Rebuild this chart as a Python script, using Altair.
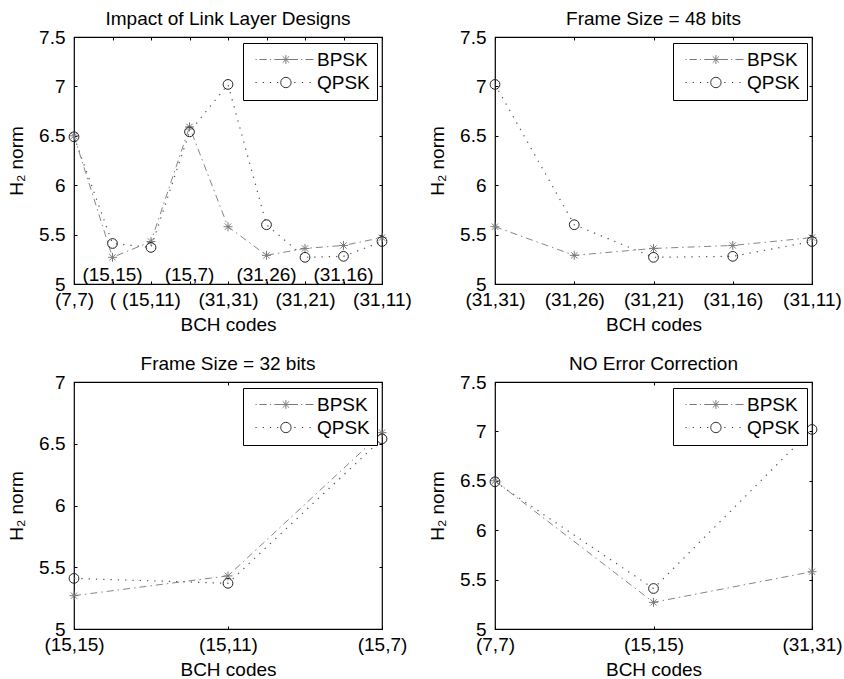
import json
import altair as alt
import pandas as pd

FONT = "Liberation Sans"
FS = 19

# ---------------- data ----------------
CODES = ["(7,7)", "(15,15)", "(15,11)", "(15,7)", "(31,31)", "(31,26)", "(31,21)", "(31,16)", "(31,11)"]
BPSK = [6.50, 5.27, 5.43, 6.59, 5.58, 5.29, 5.36, 5.39, 5.47]
QPSK = [6.49, 5.41, 5.37, 6.54, 7.02, 5.60, 5.27, 5.28, 5.43]
SERIES = ["BPSK", "QPSK"]

TITLES = ["Impact of Link Layer Designs", "Frame Size = 48 bits", "Frame Size = 32 bits", "NO Error Correction"]

TL_CODES = CODES
TL_TICK_LABELS = ["(7,7)", "(", "(15,11)", "", "(31,31)", "", "(31,21)", "", "(31,11)"]
TL_INNER_LABELS = ["(15,15)", "(15,7)", "(31,26)", "(31,16)"]
TR_CODES = ["(31,31)", "(31,26)", "(31,21)", "(31,16)", "(31,11)"]
BL_CODES = ["(15,15)", "(15,11)", "(15,7)"]
BR_CODES = ["(7,7)", "(15,15)", "(31,31)"]

Y_TICKS_75 = [5, 5.5, 6, 6.5, 7, 7.5]
Y_TICKS_7 = [5, 5.5, 6, 6.5, 7]

# ---------------- styles ----------------
PLOT_H = 247
INNER_LABEL_Y = 5.09
STAR = "M-1,0L1,0M0,-1L0,1M-0.7,-0.7L0.7,0.7M-0.7,0.7L0.7,-0.7"


def _segs(pairs):
    return "".join(f"M{a},0L{b},0" for a, b in pairs)


# legend sample glyphs (line sample + marker), in symbol units
_m = 6.6
LEG_B = _segs([(-1, -0.7), (0, 1.8), (2.6, 2.9), (3.7, 5.6), (7.6, 9.6), (10.4, 10.7), (11.5, 13.5)]) + \
    f"M{_m-1.1},0L{_m+1.1},0M{_m},-1.1L{_m},1.1M{_m-0.8},-0.8L{_m+0.8},0.8M{_m-0.8},0.8L{_m+0.8},-0.8"
_r = 1.3
LEG_Q = _segs([(-1, -0.7), (0.8, 1.1), (2.6, 2.9), (4.4, 4.7), (8.7, 9.0), (10.6, 10.9), (12.5, 12.8)]) + \
    f"M{_m+_r},0A{_r},{_r} 0 1,1 {_m-_r},0A{_r},{_r} 0 1,1 {_m+_r},0Z"

TICK = {"expr": "-3"}


def panel(title, codes, ymax, yticks, width, tick_labels=None, inner=None):
    rows = []
    for k, c in enumerate(codes):
        i = CODES.index(c)
        rows.append({"code": c, "idx": k, "series": "BPSK", "value": BPSK[i]})
        rows.append({"code": c, "idx": k, "series": "QPSK", "value": QPSK[i]})
    df = pd.DataFrame(rows)

    labels = tick_labels if tick_labels is not None else codes
    label_expr = f"{json.dumps(labels)}[indexof({json.dumps(codes)}, datum.value)]"

    xs = alt.Scale(type="point", domain=codes, padding=0)
    ys = alt.Scale(domain=[5, ymax], nice=False, zero=False)

    ax_bottom = alt.Axis(orient="bottom", title="BCH codes", values=codes, labelExpr=label_expr,
                         labelFont=FONT, labelFontSize=FS, labelColor="black", labelAngle=0,
                         labelBaseline="alphabetic", labelPadding=24, labelOverlap=False, labelFlush=False,
                         tickSize=TICK, tickColor="black", tickWidth=1, domain=False, grid=False,
                         titleFont=FONT, titleFontSize=FS, titleFontWeight="normal", titleColor="black",
                         titleBaseline="alphabetic", titleX=width / 2, titleY=46, titleAlign="center")
    ax_left = alt.Axis(orient="left", title="H\u2082 norm", values=yticks, format="~g",
                       labelFont=FONT, labelFontSize=FS, labelColor="black", labelAlign="right",
                       labelBaseline="middle", labelPadding=12, labelOverlap=False, labelFlush=False,
                       tickSize=TICK, tickColor="black", tickWidth=1, domain=False, grid=False,
                       titleFont=FONT, titleFontSize=FS, titleFontWeight="normal", titleColor="black",
                       titleAngle=270, titleBaseline="alphabetic", titleAlign="center",
                       titleX=-52, titleY=PLOT_H / 2)
    ax_top = alt.Axis(orient="top", title=None, values=codes, labels=False, tickSize=TICK,
                      tickColor="black", tickWidth=1, domain=False, grid=False,
                      minExtent=0, maxExtent=0)
    ax_right = alt.Axis(orient="right", title=None, values=yticks, labels=False, tickSize=TICK,
                        tickColor="black", tickWidth=1, domain=False, grid=False,
                        minExtent=0, maxExtent=0)

    base = alt.Chart(df)
    bp = base.transform_filter(alt.datum.series == "BPSK")
    qp = base.transform_filter(alt.datum.series == "QPSK")

    line_b = bp.mark_line(color="#858585", strokeWidth=1, strokeDash=[7, 4, 1.5, 4]).encode(
        x=alt.X("code:N", scale=xs, axis=ax_bottom),
        y=alt.Y("value:Q", scale=ys, axis=ax_left),
        order="idx:Q")
    line_q = qp.mark_line(color="#555555", strokeWidth=1.2, strokeDash=[1.3, 6]).encode(
        x=alt.X("code:N", scale=xs, axis=ax_top),
        y=alt.Y("value:Q", scale=ys, axis=ax_right),
        order="idx:Q")
    pts_b = bp.mark_point(shape=STAR, size=81, color="#7a7a7a", strokeWidth=1, filled=False, opacity=1).encode(
        x=alt.X("code:N", scale=xs, axis=None),
        y=alt.Y("value:Q", scale=ys, axis=None))
    pts_q = qp.mark_point(shape="circle", size=95, color="#222222", strokeWidth=1, filled=False, opacity=1).encode(
        x=alt.X("code:N", scale=xs, axis=None),
        y=alt.Y("value:Q", scale=ys, axis=None))

    leg = dict(title=None, orient="none", legendX=width - 139, legendY=6, padding=7, strokeColor="black",
               fillColor="white", labelFont=FONT, labelFontSize=FS, labelColor="black",
               symbolSize=64, symbolStrokeWidth=1, symbolOpacity=1, labelOffset=48,
               rowPadding=3, cornerRadius=0)
    # invisible carrier of the legend (first code only, clipped)
    ghost = base.transform_filter(alt.datum.idx == 0).mark_point(
        filled=False, size=64, strokeWidth=1, opacity=0, clip=True).encode(
        x=alt.X("code:N", scale=xs, axis=None),
        y=alt.Y("value:Q", scale=ys, axis=None),
        shape=alt.Shape("series:N", scale=alt.Scale(domain=SERIES, range=[LEG_B, LEG_Q]),
                        legend=alt.Legend(**leg)),
        color=alt.Color("series:N", scale=alt.Scale(domain=SERIES, range=["#7a7a7a", "#333333"]),
                        legend=alt.Legend(**leg)))

    layers = [line_b, line_q, pts_b, pts_q, ghost]
    if inner:
        tdf = pd.DataFrame({"code": inner})
        txt = alt.Chart(tdf).mark_text(font=FONT, fontSize=FS, color="black", baseline="middle",
                                        align="center").encode(
            x=alt.X("code:N", scale=xs, axis=None),
            y=alt.YDatum(INNER_LABEL_Y, axis=None),
            text="code:N")
        layers.append(txt)

    return alt.layer(*layers).resolve_axis(x="independent", y="independent").properties(
        width=width, height=PLOT_H,
        title=alt.TitleParams(text=title, font=FONT, fontSize=FS, fontWeight="normal", color="black",
                              anchor="middle", baseline="alphabetic", offset=14, dy=30))


tl = panel(TITLES[0], TL_CODES, 7.5, Y_TICKS_75, 308, TL_TICK_LABELS, TL_INNER_LABELS)
tr = panel(TITLES[1], TR_CODES, 7.5, Y_TICKS_75, 317)
bl = panel(TITLES[2], BL_CODES, 7.0, Y_TICKS_7, 308)
br = panel(TITLES[3], BR_CODES, 7.5, Y_TICKS_75, 317)

chart = alt.concat(tl, tr, bl, br, columns=2, spacing={"row": 98, "column": 113},
                   bounds="flush", align="each").resolve_scale(
    shape="independent", color="independent").resolve_legend(
    shape="independent", color="independent").properties(
    padding={"left": 6, "top": 9, "right": 0, "bottom": 0},
    background="white").configure_view(stroke="black", strokeWidth=1.2)

chart.save("out.html", embed_options={"renderer": "svg", "actions": False})
